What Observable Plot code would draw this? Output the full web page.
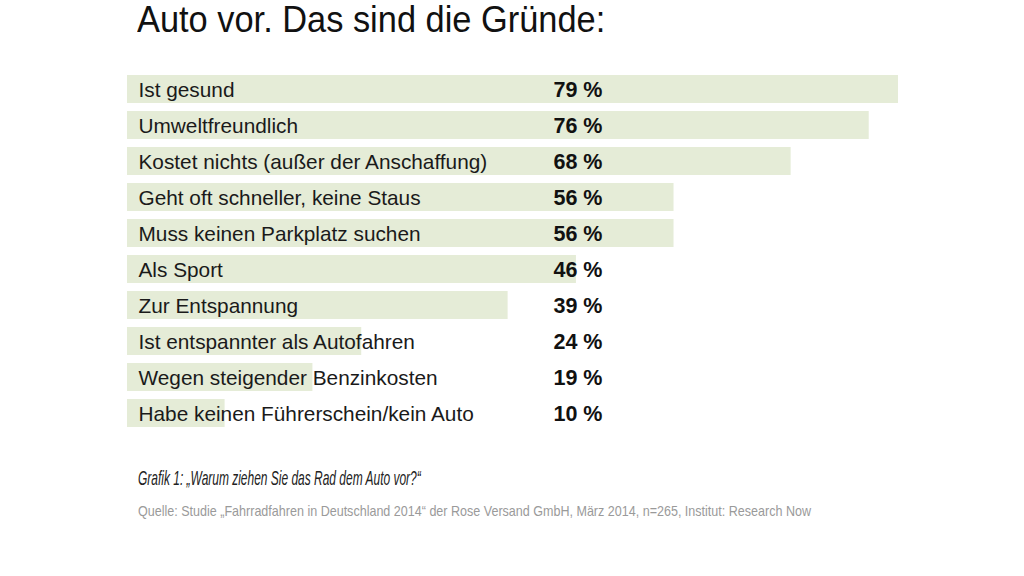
<!DOCTYPE html>
<html>
<head>
<meta charset="utf-8">
<script src="https://cdn.jsdelivr.net/npm/d3@7"></script>
<script src="https://cdn.jsdelivr.net/npm/@observablehq/plot@0.6"></script>
<style>
  html, body { margin: 0; padding: 0; background: #fff; width: 1024px; height: 576px; overflow: hidden; position: relative; }
  .title { position: absolute; left: 137px; top: 4px; line-height: 0.9; font-family: "Liberation Sans", Arial, sans-serif; font-size: 36px; color: #111; white-space: nowrap; transform: scaleX(0.955); transform-origin: left top; }
  #chart { position: absolute; left: 0; top: 60px; }
  .caption { position: absolute; left: 138px; top: 467px; line-height: 1; font-family: "Liberation Sans", Arial, sans-serif; font-style: italic; font-size: 21px; color: #222; white-space: nowrap; transform: scaleX(0.57); transform-origin: left top; }
  .source { position: absolute; left: 138px; top: 503px; line-height: 1; font-family: "Liberation Sans", Arial, sans-serif; font-size: 15px; color: #9a9a9a; white-space: nowrap; transform: scaleX(0.836); transform-origin: left top; }
</style>
</head>
<body>
<div class="title">Auto vor. Das sind die Gründe:</div>
<div id="chart"></div>
<div class="caption">Grafik 1: „Warum ziehen Sie das Rad dem Auto vor?“</div>
<div class="source">Quelle: Studie „Fahrradfahren in Deutschland 2014“ der Rose Versand GmbH, März 2014, n=265, Institut: Research Now</div>
<script>
const reasons = [
  "Ist gesund",
  "Umweltfreundlich",
  "Kostet nichts (außer der Anschaffung)",
  "Geht oft schneller, keine Staus",
  "Muss keinen Parkplatz suchen",
  "Als Sport",
  "Zur Entspannung",
  "Ist entspannter als Autofahren",
  "Wegen steigender Benzinkosten",
  "Habe keinen Führerschein/kein Auto"
];
const shares = [79, 76, 68, 56, 56, 46, 39, 24, 19, 10];
const valueLabels = shares.map(v => `${v} %`);

const data = reasons.map((r, i) => ({reason: r, share: shares[i], label: valueLabels[i]}));

const chart = Plot.plot({
  width: 1024,
  height: 380,
  marginLeft: 127,
  marginRight: 126,
  marginTop: 6,
  marginBottom: 4,
  x: {domain: [0, 79], axis: null},
  y: {domain: reasons, padding: 0.22, axis: null},
  style: {fontFamily: "Liberation Sans, Arial, sans-serif", background: "#fff"},
  marks: [
    Plot.barX(data, {x: "share", y: "reason", fill: "#e5ecd7"}),
    Plot.text(data, {y: "reason", text: "reason", frameAnchor: "left", textAnchor: "start", dx: 11, dy: 1, fontSize: 20.8, fill: "#1a1a1a"}),
    Plot.text(data, {y: "reason", text: "label", frameAnchor: "left", textAnchor: "end", dx: 475, dy: 1, fontSize: 21.5, fontWeight: "bold", fill: "#111"})
  ]
});
document.getElementById("chart").appendChild(chart);
</script>
</body>
</html>
